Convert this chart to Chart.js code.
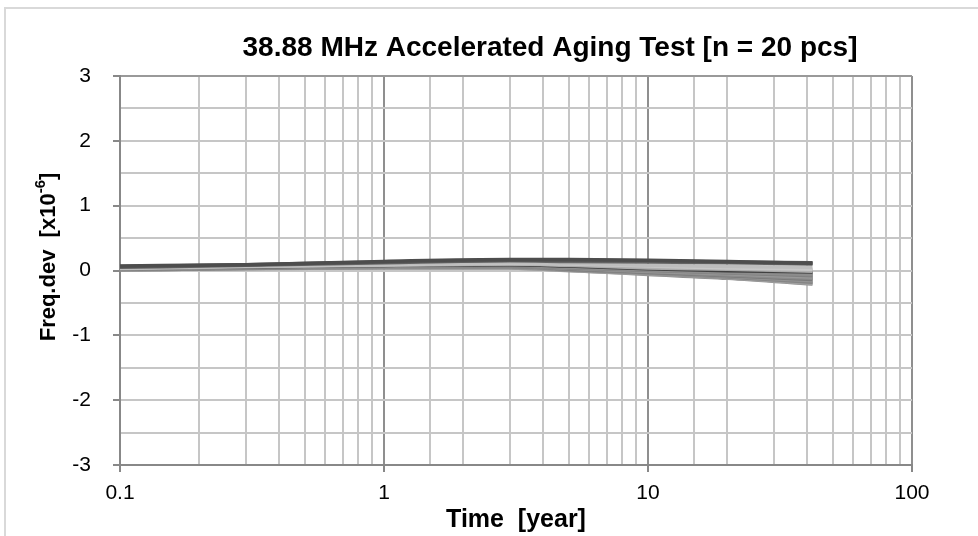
<!DOCTYPE html>
<html>
<head>
<meta charset="utf-8">
<script src="https://cdn.jsdelivr.net/npm/chart.js@4/dist/chart.umd.min.js"></script>
<style>
  html, body { margin: 0; padding: 0; background: #fff; overflow: hidden; }
  #wrap { width: 978px; height: 536px; position: relative; }
</style>
</head>
<body>
<div id="wrap"><canvas id="agingChart"></canvas></div>
<script>
//texts
const chartTitle = '38.88 MHz Accelerated Aging Test [n = 20 pcs]'
const xTitle = 'Time  [year]'
const yTitle = 'Freq.dev  [x10'
const yTitleSup = '-6'

//sample times [year]
const times = [0.1, 0.3, 1, 3, 5, 10, 20, 42]

//frequency deviation of each piece [x10^-6]
const pcs01 = [0.07, 0.09, 0.14, 0.17, 0.17, 0.16, 0.14, 0.11]
const pcs02 = [0.06, 0.09, 0.13, 0.16, 0.16, 0.15, 0.13, 0.12]
const pcs03 = [0.05, 0.08, 0.12, 0.15, 0.14, 0.13, 0.12, 0.10]
const pcs04 = [0.04, 0.07, 0.10, 0.12, 0.11, 0.08, 0.06, 0.05]
const pcs05 = [0.04, 0.07, 0.09, 0.11, 0.10, 0.07, 0.04, 0.02]
const pcs06 = [0.03, 0.06, 0.09, 0.10, 0.09, 0.05, 0.03, 0.00]
const pcs07 = [0.04, 0.06, 0.08, 0.10, 0.08, 0.04, 0.02, -0.01]
const pcs08 = [0.03, 0.05, 0.07, 0.08, 0.06, 0.02, -0.01, -0.03]
const pcs09 = [0.03, 0.05, 0.07, 0.08, 0.05, 0.01, -0.03, -0.06]
const pcs10 = [0.02, 0.05, 0.07, 0.07, 0.04, 0.00, -0.04, -0.08]
const pcs11 = [0.03, 0.05, 0.06, 0.07, 0.04, -0.01, -0.05, -0.10]
const pcs12 = [0.02, 0.04, 0.06, 0.06, 0.03, -0.02, -0.07, -0.12]
const pcs13 = [0.02, 0.04, 0.06, 0.06, 0.02, -0.03, -0.08, -0.14]
const pcs14 = [0.02, 0.04, 0.05, 0.05, 0.02, -0.04, -0.09, -0.16]
const pcs15 = [0.01, 0.03, 0.05, 0.05, 0.01, -0.04, -0.10, -0.18]
const pcs16 = [0.01, 0.03, 0.04, 0.04, 0.00, -0.05, -0.11, -0.20]
const pcs17 = [0.01, 0.03, 0.04, 0.04, 0.00, -0.06, -0.12, -0.21]
const pcs18 = [0.02, 0.04, 0.06, 0.07, 0.05, 0.02, -0.02, -0.05]
const pcs19 = [0.03, 0.06, 0.08, 0.09, 0.07, 0.04, 0.01, -0.02]
const pcs20 = [0.02, 0.04, 0.05, 0.05, 0.03, -0.01, -0.06, -0.11]

const pieces = [pcs01, pcs02, pcs03, pcs04, pcs05, pcs06, pcs07, pcs08, pcs09, pcs10,
                pcs11, pcs12, pcs13, pcs14, pcs15, pcs16, pcs17, pcs18, pcs19, pcs20]
const pieceGrays = ['#4d4d4d', '#595959', '#666666', '#bdbdbd', '#c8c8c8', '#b0b0b0', '#a6a6a6', '#404040', '#8c8c8c', '#808080',
                    '#999999', '#8a8a8a', '#7a7a7a', '#959595', '#858585', '#a0a0a0', '#909090', '#7f7f7f', '#9a9a9a', '#888888']

const fontFamily = '"Liberation Sans", Arial, sans-serif'
const clear = 'rgba(0,0,0,0)'

const isDecade = v => {
    const l = Math.log10(v)
    return Math.abs(l - Math.round(l)) < 1e-6
}

//frame and titles drawn by hand (superscript in y title)
const frameAndTitles = {
    id: 'frameAndTitles',
    beforeDraw(chart) {
        const c = chart.ctx
        c.save()
        c.strokeStyle = '#d9d9d9'
        c.lineWidth = 2
        c.strokeRect(5, 8, 1000, 600)
        c.restore()
    },
    afterDraw(chart) {
        const c = chart.ctx
        const area = chart.chartArea
        c.save()
        c.fillStyle = '#000'
        c.textAlign = 'center'
        c.textBaseline = 'middle'
        c.font = `bold 28px ${fontFamily}`
        c.fillText(chartTitle, 550, 48)
        c.font = `bold 25px ${fontFamily}`
        c.fillText(xTitle, (area.left + area.right) / 2, 520)

        c.translate(49, 257)
        c.rotate(-Math.PI / 2)
        c.textAlign = 'left'
        c.font = `bold 22px ${fontFamily}`
        const wBase = c.measureText(yTitle).width
        const wTail = c.measureText(']').width
        c.font = `bold 15px ${fontFamily}`
        const wSup = c.measureText(yTitleSup).width
        let x = -(wBase + wSup + wTail) / 2
        c.font = `bold 22px ${fontFamily}`
        c.fillText(yTitle, x, 0)
        x += wBase
        c.font = `bold 15px ${fontFamily}`
        c.fillText(yTitleSup, x, -8)
        x += wSup
        c.font = `bold 22px ${fontFamily}`
        c.fillText(']', x, 0)
        c.restore()
    }
}

//datasets
const datasets = pieces.map((row, i) => ({
    data: times.map((t, j) => ({x: t, y: row[j]})),
    borderColor: pieceGrays[i],
    borderWidth: i === 7 ? 2.5 : 3.5,
    pointRadius: 0,
    cubicInterpolationMode: 'monotone',
    fill: false
}))

const config = {
    type: 'line',
    data: {datasets: datasets},
    options: {
        responsive: true,
        maintainAspectRatio: false,
        animation: false,
        layout: {padding: {top: 76, right: 66, bottom: 0, left: 0}},
        plugins: {
            legend: {display: false},
            tooltip: {enabled: false},
            title: {display: false}
        },
        scales: {
            x: {
                type: 'logarithmic',
                min: 0.1,
                max: 100,
                afterFit(scale) { scale.height = 71 },
                border: {color: '#888888', width: 2},
                grid: {
                    color: ctx => (ctx.tick && isDecade(ctx.tick.value)) ? '#8f8f8f' : '#c6c6c6',
                    lineWidth: 2,
                    tickLength: 7,
                    tickWidth: 2,
                    tickColor: ctx => (ctx.tick && isDecade(ctx.tick.value)) ? '#888888' : clear
                },
                ticks: {
                    autoSkip: false,
                    maxRotation: 0,
                    padding: 9,
                    color: '#000',
                    font: {family: fontFamily, size: 21},
                    callback: v => isDecade(v) ? String(v) : ''
                }
            },
            y: {
                min: -3,
                max: 3,
                afterFit(scale) { scale.width = 120 },
                border: {color: '#888888', width: 2},
                grid: {
                    color: ctx => (ctx.tick && Math.abs(ctx.tick.value) === 3) ? '#999999' : '#c6c6c6',
                    lineWidth: 2,
                    tickLength: 7,
                    tickWidth: 2,
                    tickColor: ctx => (ctx.tick && Number.isInteger(ctx.tick.value)) ? '#888888' : clear
                },
                ticks: {
                    stepSize: 0.5,
                    padding: 22,
                    color: '#000',
                    font: {family: fontFamily, size: 21},
                    callback: v => Number.isInteger(v) ? String(v) : ''
                }
            }
        }
    },
    plugins: [frameAndTitles]
}

//render chart
const agingChart = new Chart(document.getElementById('agingChart'), config)
</script>
</body>
</html>
